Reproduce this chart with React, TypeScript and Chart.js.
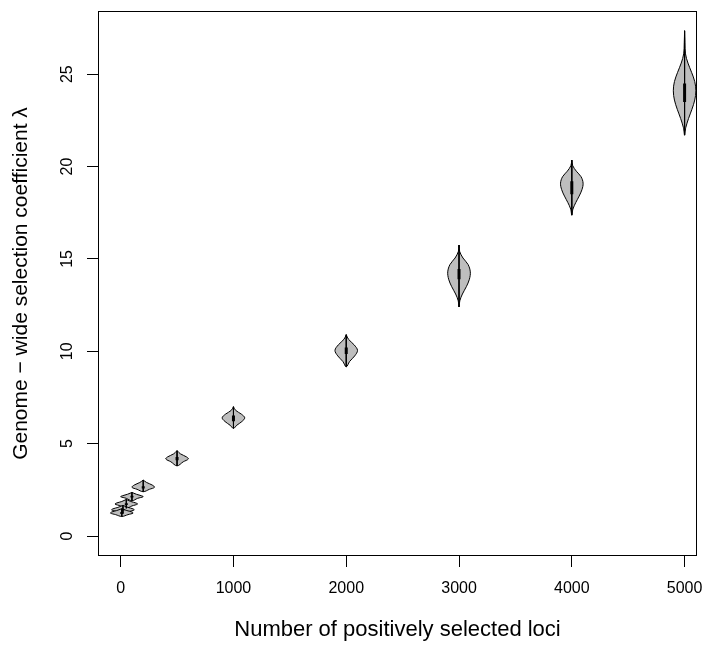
import { useEffect, useRef } from 'react';
import { Chart, registerables } from 'chart.js';

Chart.register(...registerables);

// Number of positively selected loci (violin positions)
const loci = [10, 20, 50, 100, 200, 500, 1000, 2000, 3000, 4000, 5000];

// Interquartile range of lambda for each violin
const q1 = [1.2, 1.38, 1.68, 2.08, 2.58, 4.1, 6.22, 9.85, 13.9, 18.5, 23.5];
const q3 = [1.3, 1.47, 1.78, 2.18, 2.7, 4.28, 6.52, 10.2, 14.45, 19.2, 24.5];

// Density outline of each violin: lambda levels (top -> bottom) and relative half widths
const densityY: number[][] = [
  [1.48, 1.38, 1.3, 1.24, 1.16, 1.06],
  [1.66, 1.55, 1.47, 1.41, 1.33, 1.22],
  [1.98, 1.87, 1.79, 1.73, 1.63, 1.5],
  [2.36, 2.26, 2.18, 2.13, 2.04, 1.91],
  [3.03, 2.9, 2.76, 2.64, 2.53, 2.4],
  [4.62, 4.45, 4.28, 4.17, 4.02, 3.8],
  [7.0, 6.8, 6.6, 6.4, 6.2, 6.0, 5.83],
  [10.9, 10.65, 10.35, 10.05, 9.75, 9.45, 9.16],
  [15.75, 15.4, 15.05, 14.7, 14.3, 13.9, 13.5, 13.1, 12.75, 12.4],
  [20.35, 20.05, 19.75, 19.45, 19.1, 18.75, 18.4, 18.05, 17.7, 17.37],
  [27.35, 26.7, 26.1, 25.6, 25.1, 24.6, 24.1, 23.6, 23.1, 22.6, 22.1, 21.7],
];
const densityW: number[][] = [
  [0, 0.45, 0.9, 1, 0.55, 0],
  [0, 0.45, 0.9, 1, 0.55, 0],
  [0, 0.4, 0.85, 1, 0.5, 0],
  [0, 0.4, 0.85, 1, 0.5, 0],
  [0, 0.3, 0.8, 1, 0.55, 0],
  [0, 0.3, 0.85, 1, 0.55, 0],
  [0, 0.2, 0.7, 1, 0.75, 0.3, 0],
  [0, 0.2, 0.7, 1, 0.75, 0.3, 0],
  [0, 0.06, 0.35, 0.8, 1, 0.92, 0.65, 0.3, 0.08, 0],
  [0, 0.08, 0.4, 0.82, 1, 0.9, 0.65, 0.35, 0.1, 0],
  [0, 0.03, 0.08, 0.3, 0.62, 0.9, 1, 0.9, 0.65, 0.35, 0.1, 0],
];

const xTicks = [0, 1000, 2000, 3000, 4000, 5000];
const yTicks = [0, 5, 10, 15, 20, 25];

const VIOLIN_HALF_WIDTH = 100; // in x-axis units
const FONT = "'Liberation Sans', Arial, Helvetica, sans-serif";

const framePlugin = {
  id: 'frame',
  afterDraw(chart: any) {
    const { ctx, chartArea: a } = chart;
    ctx.save();
    ctx.strokeStyle = '#000';
    ctx.lineWidth = 1;
    ctx.strokeRect(
      Math.round(a.left) + 0.5,
      Math.round(a.top) + 0.5,
      Math.round(a.right - a.left) - 1,
      Math.round(a.bottom - a.top) - 1
    );
    ctx.restore();
  },
};

export default function App() {
  const ref = useRef<HTMLCanvasElement>(null);

  useEffect(() => {
    if (!ref.current) return;
    const datasets: any[] = [];
    loci.forEach((x, i) => {
      const ys = densityY[i];
      const ws = densityW[i];
      const right = ys.map((y, k) => ({ x: x + ws[k] * VIOLIN_HALF_WIDTH, y }));
      const left = ys
        .map((y, k) => ({ x: x - ws[k] * VIOLIN_HALF_WIDTH, y }))
        .slice(0, -1)
        .reverse();
      datasets.push({
        data: [...right, ...left],
        borderColor: '#000',
        borderWidth: 1,
        backgroundColor: '#BEBEBE',
        fill: 'shape',
        tension: 0.35,
        pointRadius: 0,
        order: 3,
      });
      datasets.push({
        data: [
          { x, y: ys[0] },
          { x, y: ys[ys.length - 1] },
        ],
        borderColor: '#000',
        borderWidth: 1,
        fill: false,
        tension: 0,
        pointRadius: 0,
        order: 2,
      });
      datasets.push({
        data: [
          { x, y: q3[i] },
          { x, y: q1[i] },
        ],
        borderColor: '#000',
        borderWidth: 3,
        borderCapStyle: 'butt',
        fill: false,
        tension: 0,
        pointRadius: 0,
        order: 1,
      });
    });

    const chart = new Chart(ref.current, {
      type: 'line',
      data: { datasets },
      plugins: [framePlugin],
      options: {
        animation: false,
        responsive: false,
        events: [],
        layout: { padding: { left: 0, top: 11, right: 8, bottom: 0 } },
        plugins: {
          legend: { display: false },
          tooltip: { enabled: false },
        },
        scales: {
          x: {
            type: 'linear',
            min: -201,
            max: 5110,
            afterBuildTicks: (s: any) => {
              s.ticks = xTicks.map((v) => ({ value: v }));
            },
            afterFit: (s: any) => {
              s.height = 89;
              s.paddingLeft = 0;
              s.paddingRight = 0;
              s.paddingTop = 0;
              s.paddingBottom = 0;
            },
            border: { display: false },
            grid: {
              drawOnChartArea: false,
              drawTicks: true,
              tickLength: 11,
              color: '#000',
              lineWidth: 1,
            },
            ticks: {
              autoSkip: false,
              maxRotation: 0,
              padding: 12,
              color: '#000',
              font: { family: FONT, size: 16 },
              callback: (v: any) => String(v),
            },
            title: {
              display: true,
              text: 'Number of positively selected loci',
              color: '#000',
              font: { family: FONT, size: 22, lineHeight: 1.2 },
              padding: { top: 0, bottom: 2 },
            },
          },
          y: {
            type: 'linear',
            min: -1.08,
            max: 28.42,
            afterBuildTicks: (s: any) => {
              s.ticks = yTicks.map((v) => ({ value: v }));
            },
            afterFit: (s: any) => {
              s.width = 98;
              s.paddingLeft = 0;
              s.paddingRight = 0;
              s.paddingTop = 0;
              s.paddingBottom = 0;
            },
            border: { display: false },
            grid: {
              drawOnChartArea: false,
              drawTicks: true,
              tickLength: 11,
              color: '#000',
              lineWidth: 1,
            },
            ticks: {
              autoSkip: false,
              minRotation: 90,
              maxRotation: 90,
              crossAlign: 'center',
              padding: 11,
              color: '#000',
              font: { family: FONT, size: 16 },
              callback: (v: any) => String(v),
            },
            title: {
              display: true,
              text: 'Genome \u2212 wide selection coefficient \u03bb',
              color: '#000',
              font: { family: FONT, size: 21, lineHeight: 1.2 },
              padding: { top: 9, bottom: 0 },
            },
          },
        },
      } as any,
    });
    return () => chart.destroy();
  }, []);

  return (
    <div style={{ position: 'absolute', left: 0, top: 0, width: 705, height: 645, background: '#fff' }}>
      <canvas ref={ref} width={705} height={645} />
    </div>
  );
}
